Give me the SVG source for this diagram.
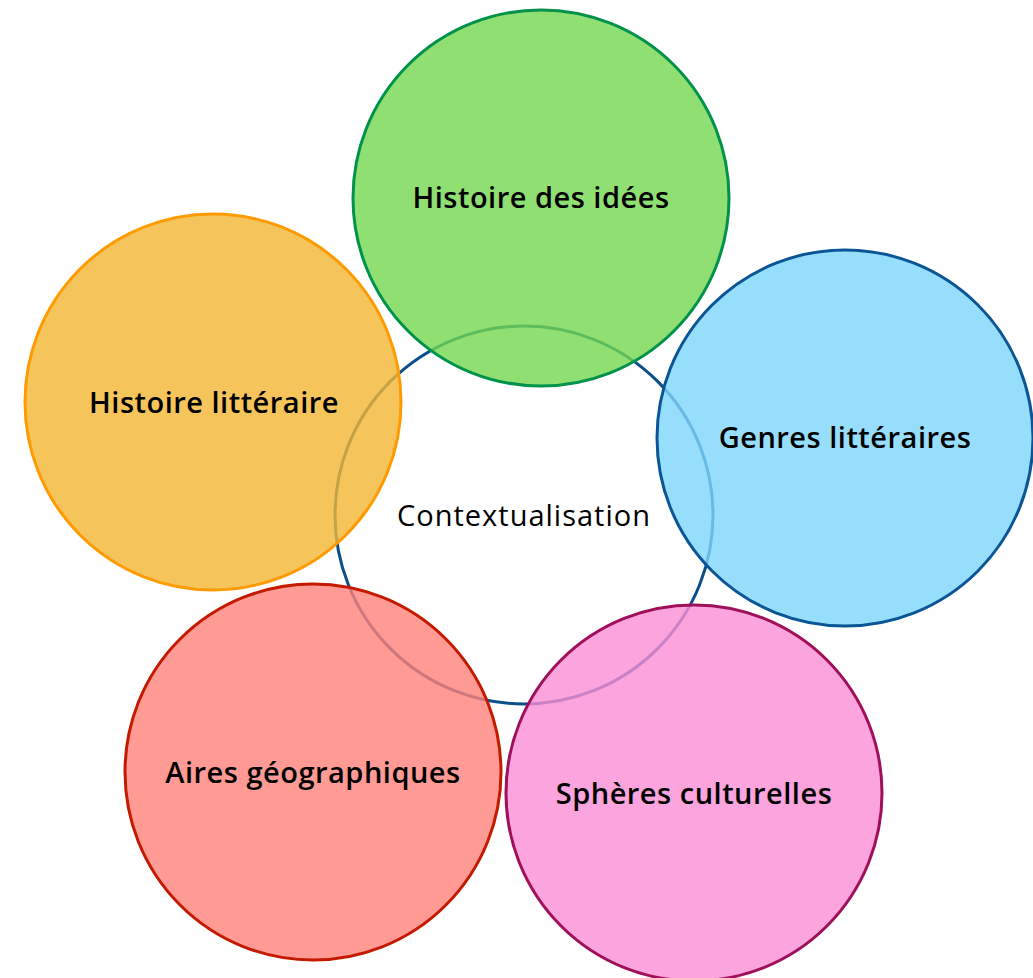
<svg xmlns="http://www.w3.org/2000/svg" width="1033" height="978" viewBox="0 0 1033 978">
<style>
.c{stroke-width:3}
.t{font-family:"Open Sans","Liberation Sans",sans-serif;font-size:29px;font-weight:600;letter-spacing:0.5px;fill:#000;text-anchor:middle}
.tc{font-weight:400;letter-spacing:1px}
</style>
<rect width="1033" height="978" fill="#fff"/>
<g id="center">
<circle class="c" cx="524" cy="515" r="189" fill="#fff" stroke="#0b4f8a"/>
<text class="t tc" x="524" y="526">Contextualisation</text>
</g>
<g id="histoire-idees">
<circle class="c" cx="541" cy="198" r="188" fill="#73d74f" fill-opacity="0.8" stroke="#00924a"/>
<text class="t" x="541" y="208">Histoire des idées</text>
</g>
<g id="histoire-litteraire">
<circle class="c" cx="213" cy="402" r="188" fill="#f3b633" fill-opacity="0.8" stroke="#ff9a00"/>
<text class="t" x="214" y="413">Histoire littéraire</text>
</g>
<g id="genres-litteraires">
<circle class="c" cx="845" cy="438" r="188" fill="#7dd4fb" fill-opacity="0.8" stroke="#0a5596"/>
<text class="t" x="845" y="448">Genres littéraires</text>
</g>
<g id="aires-geographiques">
<circle class="c" cx="313" cy="772" r="188" fill="#ff8179" fill-opacity="0.8" stroke="#c41a00"/>
<text class="t" x="313" y="783">Aires géographiques</text>
</g>
<g id="spheres-culturelles">
<circle class="c" cx="694" cy="793" r="188" fill="#fa8dd5" fill-opacity="0.8" stroke="#a0105a"/>
<text class="t" x="694" y="804">Sphères culturelles</text>
</g>
<g id="connectors"></g>
</svg>
